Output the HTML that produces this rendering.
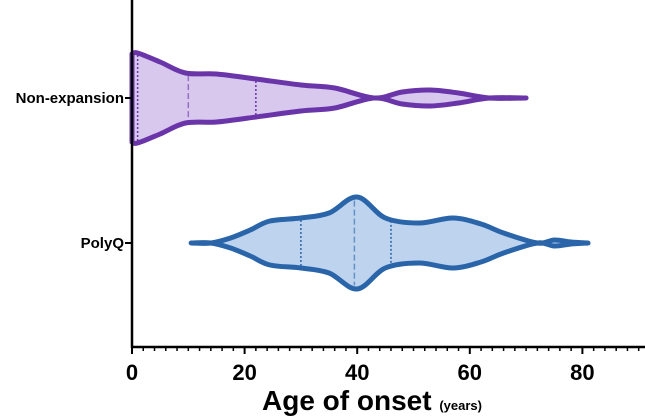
<!DOCTYPE html>
<html><head><meta charset="utf-8"><style>
body{margin:0;background:#fff;}
svg{display:block;font-family:"Liberation Sans",Arial,sans-serif;}
</style></head><body>
<svg id="c" width="645" height="418"></svg>
<script>
const categories=["Non-expansion","PolyQ"];
const neAges=[0,1,5,9.5,15,22,30,36,43,48,53,58,63.5,70];
const neDens=[44,45,36,25,24,19,13,10,0,6,8,5,0,0];
const pqAges=[10.5,14,17.5,21,24.5,30,35,40,45,51,57,62,66,72,75,78,81];
const pqDens=[0,0,5,13,22,25,30,46,25,20,25,19,10,0,3,1,0];
const neQuart=[1,10,22];
const pqQuart=[30,39.5,46];
const xTicks=[0,20,40,60,80];
const NS="http://www.w3.org/2000/svg";
const svg=document.getElementById('c');
const x0=132,pxPer=5.63,axisY=347;
const X=v=>x0+v*pxPer;
const catY=[98,243];
function el(t,a,p){const e=document.createElementNS(NS,t);for(const k in a)e.setAttribute(k,a[k]);(p||svg).appendChild(e);return e;}
function smooth(pts){let d=`M${pts[0][0]},${pts[0][1]}`;for(let i=0;i<pts.length-1;i++){const p0=pts[Math.max(0,i-1)],p1=pts[i],p2=pts[i+1],p3=pts[Math.min(pts.length-1,i+2)];d+=` C${p1[0]+(p2[0]-p0[0])/6},${p1[1]+(p2[1]-p0[1])/6} ${p2[0]-(p3[0]-p1[0])/6},${p2[1]-(p3[1]-p1[1])/6} ${p2[0]},${p2[1]}`;}return d;}
function interp(ages,dens,a){for(let i=0;i<ages.length-1;i++){if(a>=ages[i]&&a<=ages[i+1]){const t=(a-ages[i])/(ages[i+1]-ages[i]);return dens[i]+(dens[i+1]-dens[i])*t;}}return 0;}
function violin(ages,dens,q,cy,stroke,fill,name){
  const top=ages.map((a,i)=>[X(a),cy-dens[i]]);
  const bot=ages.map((a,i)=>[X(a),cy+dens[i]]).reverse();
  const d=smooth(top)+" L"+smooth(bot).slice(1)+" Z";
  const p=el('path',{d:d,fill:fill,stroke:stroke,'stroke-width':5,'stroke-linejoin':'round'});
  
  
  q.forEach((v,i)=>{const h=interp(ages,dens,v)-2;
    const l=el('line',{x1:X(v),x2:X(v),y1:cy-h,y2:cy+h,stroke:stroke,'stroke-width':1.5,'stroke-dasharray':i==1?'6,3':'2,2',opacity:i==1?0.6:1});
    
    });
}
violin(neAges,neDens,neQuart,catY[0],'#6a35a8','#d8c8ee','non-expansion');
violin(pqAges,pqDens,pqQuart,catY[1],'#2a65aa','#bdd3ee','polyq');
let a=el('line',{x1:x0,x2:x0,y1:0,y2:axisY+1,stroke:'#000','stroke-width':2.5});

a=el('line',{x1:x0,x2:645,y1:axisY,y2:axisY,stroke:'#000','stroke-width':2.5});

for(let v=0;v<=92;v+=2){const maj=v%20==0;el('line',{x1:X(v),x2:X(v),y1:axisY,y2:axisY+(maj?7:4),stroke:'#000','stroke-width':maj?2:1.5});}
xTicks.forEach(v=>{const t=el('text',{x:X(v),y:380,'text-anchor':'middle','font-size':22,'font-weight':'bold'});t.textContent=v;
  });
categories.forEach((c,i)=>{el('line',{x1:x0-7,x2:x0,y1:catY[i],y2:catY[i],stroke:'#000','stroke-width':2});
  const t=el('text',{x:x0-8,y:catY[i]+5,'text-anchor':'end','font-size':15,'font-weight':'bold'});t.textContent=c;
  });
const tt=el('text',{x:372,y:410,'text-anchor':'middle','font-weight':'bold'});

const s1=el('tspan',{'font-size':28},tt);s1.textContent='Age of onset ';
const s2=el('tspan',{'font-size':13},tt);s2.textContent='(years)';
</script>
</body></html>
